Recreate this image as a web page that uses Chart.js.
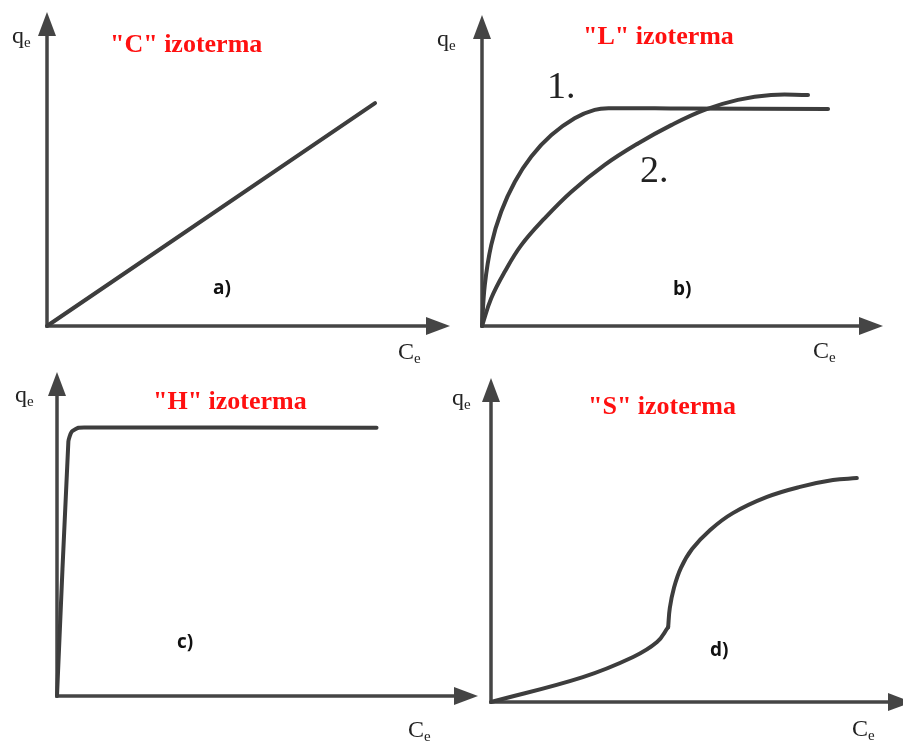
<!DOCTYPE html>
<html>
<head>
<meta charset="utf-8">
<script src="https://cdn.jsdelivr.net/npm/chart.js@4.4.1/dist/chart.umd.min.js"></script>
<style>
html,body{margin:0;padding:0;background:#fff;}
#wrap{position:relative;width:903px;height:742px;overflow:hidden;background:#fff;}
#wrap canvas{position:absolute;left:0;top:0;}
.t{position:absolute;white-space:nowrap;line-height:1;}
.title{font-family:"Liberation Serif","Times New Roman",serif;font-weight:bold;color:#ff1010;font-size:26px;}
.sym{font-family:"Liberation Serif","Times New Roman",serif;color:#222;font-size:24px;}
.sym .sub{font-size:15px;position:relative;top:4px;}
.num{font-family:"Liberation Serif","Times New Roman",serif;color:#222;font-size:38px;}
.lab{font-family:"Open Sans",sans-serif;font-weight:bold;color:#111;font-size:19px;}
</style>
</head>
<body>
<div id="wrap">
  <canvas id="ca" width="903" height="742"></canvas>
  <canvas id="cb" width="903" height="742"></canvas>
  <canvas id="cc" width="903" height="742"></canvas>
  <canvas id="cd" width="903" height="742"></canvas>

  <div class="t title" style="left:110px;top:31.4px">"C" izoterma</div>
  <div class="t title" style="left:583px;top:23.4px">"L" izoterma</div>
  <div class="t title" style="left:153px;top:388.4px">"H" izoterma</div>
  <div class="t title" style="left:588px;top:393.4px">"S" izoterma</div>

  <div class="t sym" style="left:12px;top:22.6px">q<span class="sub">e</span></div>
  <div class="t sym" style="left:437px;top:26px">q<span class="sub">e</span></div>
  <div class="t sym" style="left:15px;top:382px">q<span class="sub">e</span></div>
  <div class="t sym" style="left:452px;top:385px">q<span class="sub">e</span></div>

  <div class="t sym" style="left:398px;top:339px">C<span class="sub">e</span></div>
  <div class="t sym" style="left:813px;top:338px">C<span class="sub">e</span></div>
  <div class="t sym" style="left:408px;top:717px">C<span class="sub">e</span></div>
  <div class="t sym" style="left:852px;top:716px">C<span class="sub">e</span></div>

  <div class="t num" style="left:547px;top:66px">1.</div>
  <div class="t num" style="left:640px;top:150px">2.</div>

  <div class="t lab" style="left:213px;top:278px">a)</div>
  <div class="t lab" style="left:673px;top:279px">b)</div>
  <div class="t lab" style="left:177px;top:632px">c)</div>
  <div class="t lab" style="left:710px;top:640px">d)</div>
</div>
<script>
// ---- data (schematic isotherms; axis units 0..100) ----
// a) "C" isotherm
const cX  = [0, 81.4];
const cY  = [0, 71.0];

// b) "L" isotherm, curves 1 and 2
const l1X = [0, 0.7, 2.3, 4.8, 8.2, 12.3, 17.3, 23.1, 28.1, 32.2, 50.0, 86.3];
const l1Y = [0, 13.2, 26.0, 36.8, 46.4, 54.5, 61.4, 66.8, 69.5, 70.0, 69.9, 69.8];

const l2X = [0, 2.3, 5.7, 9.8, 15.6, 22.3, 30.6, 38.9, 47.2, 55.5, 63.8, 72.1, 81.3];
const l2Y = [0, 8.9, 17.5, 26.0, 34.6, 43.2, 51.8, 58.7, 64.6, 69.5, 72.7, 74.3, 74.3];

// c) "H" isotherm
const hX  = [0, 2.7, 3.5, 5.1, 6.7, 75.9];
const hY  = [0, 78.5, 81.6, 82.8, 82.9, 82.8];

// d) "S" isotherm (lower branch up to the kink, upper branch from the kink)
const sLowX  = [0, 22.3, 34.5, 40.3, 43.0];
const sLowY  = [0, 7.7, 13.9, 18.5, 23.1];
const sHighX = [43.0, 43.4, 44.4, 46.1, 48.8, 53.2, 58.7, 67.0, 75.0, 83.0, 88.8];
const sHighY = [23.1, 29.0, 35.2, 41.4, 47.2, 53.1, 58.3, 63.3, 66.4, 68.5, 69.1];

const pts = (xs, ys) => xs.map((x, i) => ({x: x, y: ys[i]}));

const axisArrows = {
  id: 'axisArrows',
  beforeDatasetsDraw(chart, args, o) {
    const {ctx, chartArea: {left, right, top, bottom}} = chart;
    const tipX = right + (o.extendX || 0);
    const hl = o.headLen, hw = o.headHalf;
    ctx.save();
    ctx.strokeStyle = o.color;
    ctx.fillStyle = o.color;
    ctx.lineWidth = o.width;
    ctx.lineCap = 'square';
    ctx.beginPath();
    ctx.moveTo(left, bottom); ctx.lineTo(tipX - hl + 2, bottom);
    ctx.moveTo(left, bottom); ctx.lineTo(left, top + hl - 2);
    ctx.stroke();
    ctx.beginPath();
    ctx.moveTo(tipX, bottom); ctx.lineTo(tipX - hl, bottom - hw); ctx.lineTo(tipX - hl, bottom + hw); ctx.closePath();
    ctx.fill();
    ctx.beginPath();
    ctx.moveTo(left, top); ctx.lineTo(left - hw, top + hl); ctx.lineTo(left + hw, top + hl); ctx.closePath();
    ctx.fill();
    ctx.restore();
  }
};

const curveColor = '#3d3d3d';
function makeChart(id, box, datasets, tension, extendX) {
  return new Chart(document.getElementById(id), {
    type: 'scatter',
    data: {
      datasets: datasets.map(d => ({
        data: d,
        showLine: true,
        borderColor: curveColor,
        borderWidth: 4,
        pointRadius: 0,
        pointHoverRadius: 0,
        tension: tension,
        borderCapStyle: 'round',
        borderJoinStyle: 'round',
        clip: false
      }))
    },
    options: {
      responsive: false,
      animation: false,
      events: [],
      layout: {padding: {left: box.l, top: box.t, right: 903 - box.r, bottom: 742 - box.b}},
      scales: {
        x: {type: 'linear', min: 0, max: 100, display: false},
        y: {type: 'linear', min: 0, max: 100, display: false}
      },
      plugins: {
        legend: {display: false},
        tooltip: {enabled: false},
        axisArrows: {color: '#454545', width: 3.5, headLen: 24, headHalf: 9, extendX: extendX || 0}
      }
    },
    plugins: [axisArrows]
  });
}

makeChart('ca', {l: 47, t: 12, r: 450, b: 326}, [pts(cX, cY)], 0);
makeChart('cb', {l: 482, t: 15, r: 883, b: 326}, [pts(l1X, l1Y), pts(l2X, l2Y)], 0.4);
makeChart('cc', {l: 57, t: 372, r: 478, b: 696}, [pts(hX, hY)], 0.2);
makeChart('cd', {l: 491, t: 378, r: 903, b: 702}, [pts(sLowX, sLowY), pts(sHighX, sHighY)], 0.4, 9);
</script>
</body>
</html>
